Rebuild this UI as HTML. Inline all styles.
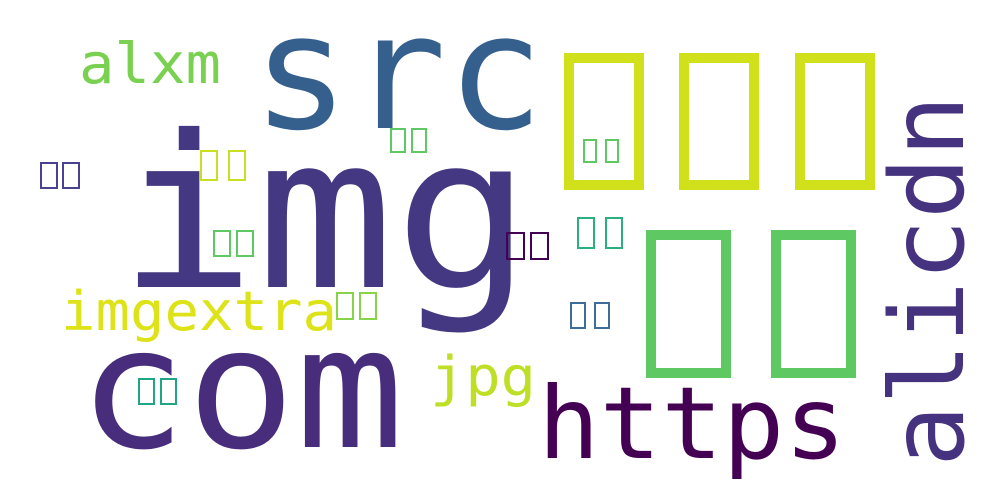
<!DOCTYPE html>
<html><head><meta charset="utf-8"><style>
html,body{margin:0;padding:0;background:#fff;}
svg{display:block;}
text{font-family:"DejaVu Sans Mono","Liberation Mono",monospace;}
</style></head><body>
<svg width="1000" height="500" viewBox="0 0 1000 500">
<rect width="1000" height="500" fill="#fff"/>
<text x="118" y="287" font-size="212" textLength="414" lengthAdjust="spacingAndGlyphs" fill="#453882">img</text>
<text x="252" y="128" font-size="160" textLength="292" lengthAdjust="spacingAndGlyphs" fill="#355f8d">src</text>
<text x="78" y="447" font-size="168" textLength="326" lengthAdjust="spacingAndGlyphs" fill="#472d7b">com</text>
<text x="538" y="458" font-size="100" textLength="308" lengthAdjust="spacingAndGlyphs" fill="#440154">https</text>
<text transform="translate(963,467) rotate(-90)" font-size="102" textLength="372" lengthAdjust="spacingAndGlyphs" fill="#46337f">alicdn</text>
<text x="79" y="83" font-size="56" textLength="142" lengthAdjust="spacingAndGlyphs" fill="#7ad151">alxm</text>
<text x="61" y="330" font-size="54" textLength="276" lengthAdjust="spacingAndGlyphs" fill="#dde318">imgextra</text>
<text x="430" y="395" font-size="54" textLength="106" lengthAdjust="spacingAndGlyphs" fill="#bddf26">jpg</text>
<g id="tofu"></g>
</svg>
<script>
const g=document.getElementById('tofu');
function box(x,y,w,h,s,c){
  const r=document.createElementNS('http://www.w3.org/2000/svg','rect');
  r.setAttribute('x',x+s/2);r.setAttribute('y',y+s/2);
  r.setAttribute('width',w-s);r.setAttribute('height',h-s);
  r.setAttribute('fill','none');r.setAttribute('stroke',c);r.setAttribute('stroke-width',s);
  
  
  g.appendChild(r);
}
[564,679,795].forEach(x=>box(x,53,80,137,10,'#d0e11c'));
[646,771].forEach(x=>box(x,230,85,148,10,'#5ec962'));
const pairs=[
 [40,162,18,27,4,'#4a4290'],
 [200,150,18,31,10,'#c8e020'],
 [213,230,18,27,5,'#5ec962'],
 [583,139,14,24,8,'#5ec962'],
 [577,217,18,32,10,'#2ab07f'],
 [570,302,16,27,8,'#3e6d9a'],
 [390,128,16,25,5,'#5ec962'],
 [506,232,19,28,5,'#440154'],
 [336,292,18,28,5,'#86d549'],
 [138,378,17,27,5,'#21a685']
];
pairs.forEach(p=>{box(p[0],p[1],p[2],p[3],2,p[5]);box(p[0]+p[2]+p[4],p[1],p[2],p[3],2,p[5]);});
</script>
</body></html>
